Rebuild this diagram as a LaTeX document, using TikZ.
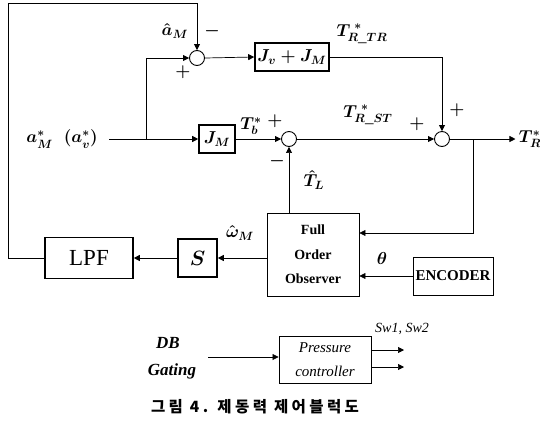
\documentclass[tikz,border=0pt]{standalone}
\usepackage{fontspec}
\setmainfont{Liberation Serif}
\newfontfamily\krfont{Noto Sans CJK KR}[LetterSpace=22]
\usetikzlibrary{arrows.meta}

\begin{document}
\begin{tikzpicture}[x=1pt, y=-1pt,
  every node/.style={font=\fontsize{17}{19}\selectfont\boldmath},
  block/.style={draw, line width=1.6pt, inner sep=0pt, align=center},
  thinblock/.style={draw, line width=0.9pt, inner sep=0pt, align=center},
  sumnode/.style={circle, draw, line width=0.9pt, inner sep=0pt, minimum size=15pt},
  signal/.style={line width=0.7pt, -{Triangle[length=6pt, width=6pt]}}
]
\useasboundingbox (0,0) rectangle (540,421);

% Summing points
\node[sumnode] (s1) at (197,58) {};
\node[sumnode] (s2) at (289,139) {};
\node[sumnode] (s3) at (442,139) {};

% Blocks
\node[block, minimum width=36pt, minimum height=28pt] (jm) at (217,139) {$J_M$};
\node[block, minimum width=74pt, minimum height=28pt] (jvm) at (292,57) {$J_v + J_M$};
\node[block, minimum width=88pt, minimum height=41pt, font=\fontsize{23}{24}\selectfont] (lpf) at (89,258) {LPF};
\node[block, minimum width=39pt, minimum height=38pt, font=\fontsize{20}{22}\selectfont\boldmath] (sblk) at (197.5,258) {$S$};
\node[thinblock, minimum width=92pt, minimum height=83pt, font=\fontsize{14}{24.5}\selectfont\bfseries] (obs) at (313,254.5)
  {Full\\Order\\Observer};
\node[thinblock, minimum width=80pt, minimum height=38pt, font=\fontsize{15}{16}\selectfont\bfseries] (enc) at (453,276)
  {ENCODER};
\node[thinblock, minimum width=92pt, minimum height=47pt, font=\fontsize{15}{24}\selectfont\itshape] (press) at (325,359.5)
  {Pressure\\controller};

% Labels
\node (input) at (62,139) {$a_M^{*}\;\;(a_v^{*})$};
\node (ahat) at (175,31) {$\hat{a}_M$};
\node (minusa) at (212,31) {$-$};
\node (plusa) at (183,72) {$+$};
\node (tb) at (251,126) {$T_b^{*}$};
\node (plusb) at (275,121) {$+$};
\node (trtr) at (362,34) {$T_{R\_TR}^{\;*}$};
\node (trst) at (368,115) {$T_{R\_ST}^{\;*}$};
\node (plusc) at (417,124) {$+$};
\node (plusd) at (457,110) {$+$};
\node (tr) at (530,139) {$T_R^{*}$};
\node (minusb) at (277,161) {$-$};
\node (tl) at (314,180) {$\hat{T}_L$};
\node (om) at (240,233) {$\hat{\omega}_M$};
\node (th) at (382,258) {$\theta$};
\node[font=\fontsize{17}{19}\selectfont\bfseries\itshape] (db) at (168,343) {DB};
\node[font=\fontsize{17}{19}\selectfont\bfseries\itshape] (gating) at (172,371) {Gating};
\node[font=\fontsize{14}{16}\selectfont\itshape] (sw) at (402,329) {Sw1, Sw2};
\node[font=\krfont\fontsize{15.5}{17}\selectfont\bfseries] (caption) at (255,407) {그림 4. 제동력 제어블럭도};

% Points
\coordinate (split) at (146,139);
\coordinate (branch) at (473,139);
\coordinate (fbl) at (8,3);
\coordinate (dbin) at (208,357);
\coordinate (swa) at (404,350);
\coordinate (swb) at (404,367);

% Forward path
\draw[signal] ([xshift=8pt]input.east) -- (jm.west);
\draw[signal] (split) |- (s1.west);
\draw[signal] (s1.east) -- (jvm.west);
\draw[signal] (jm.east) -- (s2.west);
\draw[signal] (s2.east) -- (s3.west);
\draw[signal] (jvm.east) -| (s3.north);
\draw[signal] (s3.east) -- (tr.west);

% Observer loop
\draw[signal] (branch) |- ([yshift=21.5pt]obs.east);
\draw[signal] (enc.west) -- (enc.west -| obs.east);
\draw[signal] (s2 |- obs.north) -- (s2.south);
\draw[signal] (obs.west |- sblk) -- (sblk.east);
\draw[signal] (sblk.west) -- (lpf.east |- sblk);
\draw[signal] (lpf.west) -| (fbl) -| (s1.north);

% Pressure controller
\draw[signal] (dbin) -- (dbin -| press.west);
\draw[signal] (swa -| press.east) -- (swa);
\draw[signal] (swb -| press.east) -- (swb);

\end{tikzpicture}
\end{document}
